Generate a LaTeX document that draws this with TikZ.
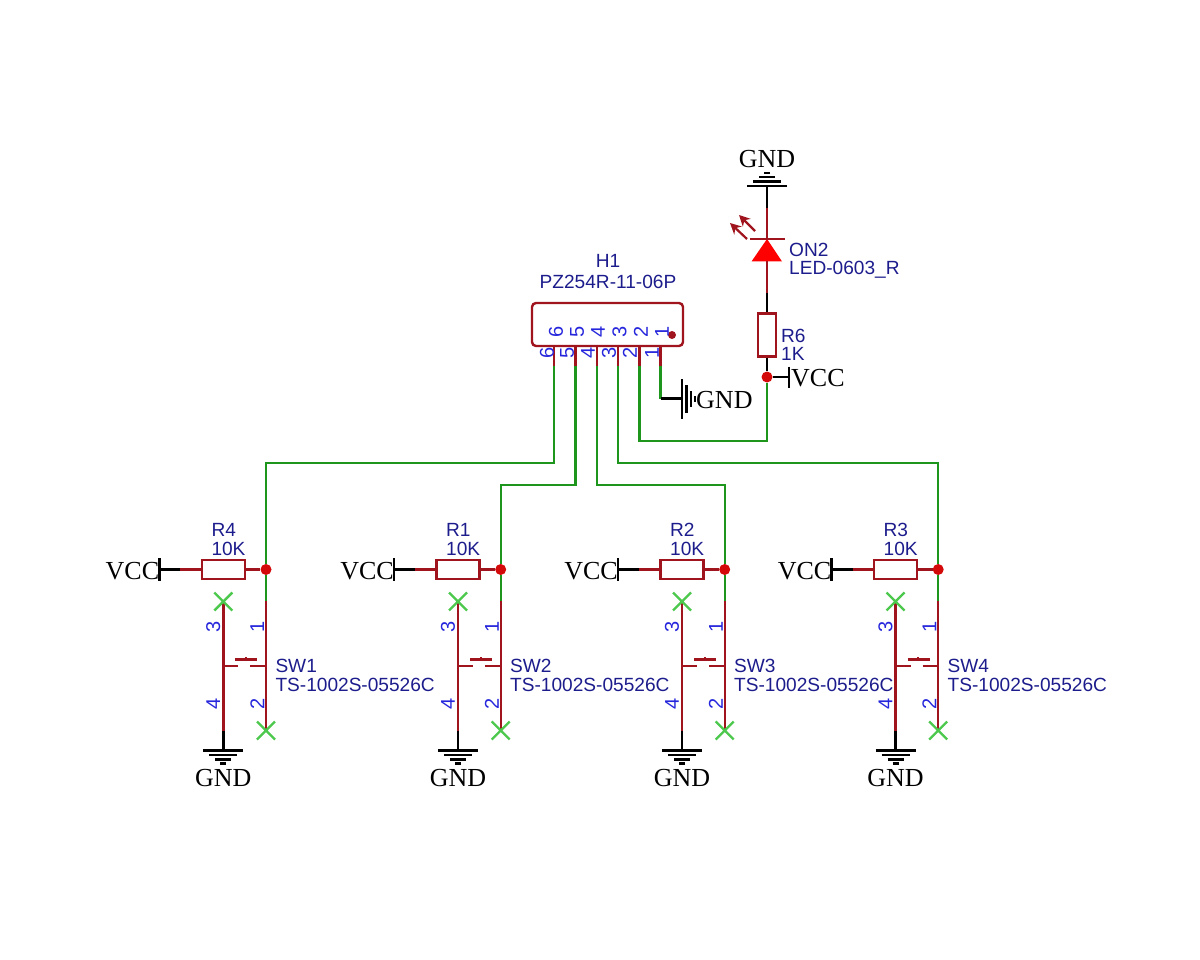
\documentclass[tikz,border=0pt]{standalone}
\usepackage{fontspec}
\setmainfont{Liberation Sans}
\newfontfamily\netfont{Liberation Serif}
\usetikzlibrary{arrows.meta}
\definecolor{wirered}{HTML}{A0141E}
\definecolor{wiregreen}{HTML}{1E961E}
\definecolor{crossgreen}{HTML}{4CC84C}
\definecolor{partblue}{HTML}{1C1C8C}
\definecolor{pinblue}{HTML}{2626DC}
\definecolor{dotred}{HTML}{D40A0A}
\tikzset{
	redwire/.style={draw=wirered,line width=2.4pt},
	greenwire/.style={draw=wiregreen,line width=2.4pt},
	blackwire/.style={draw=black,line width=2.4pt},
	resbox/.style={draw=wirered,line width=2.4pt,fill=white,inner sep=0pt},
	junction/.style={circle,fill=dotred,inner sep=0pt,minimum size=11pt},
	parttext/.style={text=partblue,font=\fontsize{19.1}{20}\selectfont,inner sep=0pt},
	pintext/.style={text=pinblue,font=\fontsize{20}{21}\selectfont,inner sep=0pt,rotate=90},
	nettext/.style={text=black,font=\netfont\fontsize{26}{27}\selectfont,inner sep=0pt,yshift=-1.5pt},
	crossmark/.style={draw=crossgreen,line width=2.4pt},
	ledarrow/.style={draw=wirered,line width=2.2pt,-{Stealth[length=11pt,width=11pt]}},
	pics/gndsym/.style={code={
		\draw[blackwire] (-20,0) -- (20,0);
		\draw[blackwire] (-14,4.5) -- (14,4.5);
		\draw[blackwire] (-8,9) -- (8,9);
		\draw[blackwire] (-3,13) -- (3,13);
	}},
	pics/swcol/.style n args={2}{code={
		\node[resbox,minimum width=43pt,minimum height=19pt] (-res) at (0,0) {};
		\node[junction] (-dot) at (42.7,0) {};
		\coordinate (-vcc) at (-64,0);
		\coordinate (-vcc2) at (-43,0);
		\coordinate (-t3) at (0,32);
		\coordinate (-t4) at (0,161);
		\coordinate (-g) at (0,181);
		\coordinate (-t1a) at (42.7,31);
		\coordinate (-t2) at (42.7,161);
		\draw[blackwire] (-vcc) -- (-vcc2);
		\draw[redwire] (-vcc2) -- (-res.west);
		\draw[redwire] (-res.east) -- (-dot);
		\draw[blackwire] (-64,-11.5) -- (-64,11.5);
		\draw[greenwire] (-dot) -- (-t1a);
		\draw[redwire] (-t1a) -- (-t2);
		\draw[redwire] (-t3) -- (-t4);
		\draw[blackwire] (-t4) -- (-g);
		\draw[crossmark] (-9,23) -- (9,41) (-9,41) -- (9,23);
		\draw[crossmark] (33.7,152) -- (51.7,170) (33.7,170) -- (51.7,152);
		\draw[redwire] (0,96.5) -- (15,96.5);
		\draw[redwire] (27,96.5) -- (42.7,96.5);
		\draw[redwire] (12,90) -- (34,90);
		\draw[redwire] (22.7,87.5) -- (22.7,90);
		\pic at (-g) {gndsym};
		\node[pintext] (-n3) at (-10,57.5) {3};
		\node[pintext] (-n1) at (34,57.5) {1};
		\node[pintext] (-n4) at (-10,134.5) {4};
		\node[pintext] (-n2) at (34,134.5) {2};
		\node[parttext,anchor=west] (-ref) at (52,96.5) {#2};
		\node[parttext,anchor=west] (-val) at (52,115.5) {TS-1002S-05526C};
		\node[parttext,anchor=west] (-rref) at (-12,-39.5) {#1};
		\node[parttext,anchor=west] (-rval) at (-12,-21) {10K};
		\node[nettext] (-gnd) at (0,207.5) {GND};
		\node[nettext,anchor=east] (-vcctext) at (-64,0) {VCC};
	}}
}
\begin{document}
\begin{tikzpicture}[x=1pt,y=-1pt]
	\useasboundingbox (0,0) rectangle (1200,960);
	% switch columns
	\pic (sw1) at (223.3,569.5) {swcol={R4}{SW1}};
	\pic (sw2) at (458,569.5) {swcol={R1}{SW2}};
	\pic (sw3) at (682,569.5) {swcol={R2}{SW3}};
	\pic (sw4) at (895.5,569.5) {swcol={R3}{SW4}};
	% header
	\node[draw=wirered,line width=2.4pt,rounded corners=4pt,minimum width=151pt,minimum height=43pt,inner sep=0pt] (H1) at (607.5,324.5) {};
	\node[parttext] (H1ref) at (608,261) {H1};
	\node[parttext] (H1val) at (608,282) {PZ254R-11-06P};
	\node[circle,fill=wirered,inner sep=0pt,minimum size=8pt] (H1dot) at (672,335) {};
	\coordinate (P6) at (554,366);
	\coordinate (P5) at (575.5,366);
	\coordinate (P4) at (597,366);
	\coordinate (P3) at (618,366);
	\coordinate (P2) at (639.5,366);
	\coordinate (P1) at (660.5,366);
	\draw[redwire] (P6) -- (P6 |- H1.south);
	\draw[redwire] (P5) -- (P5 |- H1.south);
	\draw[redwire] (P4) -- (P4 |- H1.south);
	\draw[redwire] (P3) -- (P3 |- H1.south);
	\draw[redwire] (P2) -- (P2 |- H1.south);
	\draw[redwire] (P1) -- (P1 |- H1.south);
	\node[pintext] (in6) at (556,332) {6};
	\node[pintext] (in5) at (577,332) {5};
	\node[pintext] (in4) at (598,332) {4};
	\node[pintext] (in3) at (619.5,332) {3};
	\node[pintext] (in2) at (641,332) {2};
	\node[pintext] (in1) at (662,332) {1};
	\node[pintext] (out6) at (547,353) {6};
	\node[pintext] (out5) at (567,353) {5};
	\node[pintext] (out4) at (588,353) {4};
	\node[pintext] (out3) at (609,353) {3};
	\node[pintext] (out2) at (630,353) {2};
	\node[pintext] (out1) at (652,353) {1};
	% led branch
	\node[resbox,minimum width=18pt,minimum height=43pt] (R6) at (767,335) {};
	\node[junction] (J6) at (767,377) {};
	\coordinate (LEDtop) at (767,239);
	\coordinate (LEDbot) at (767,261);
	\coordinate (G1) at (767,186);
	\coordinate (W1) at (767,208);
	\coordinate (W2) at (767,293);
	\coordinate (V1) at (789,377);
	\fill[red] (LEDtop) -- (751.5,261.5) -- (782,261.5) -- cycle;
	\draw[redwire] (750,239) -- (785,239);
	\draw[blackwire] (G1) -- (W1);
	\draw[redwire] (W1) -- (LEDtop);
	\draw[redwire] (LEDbot) -- (W2);
	\draw[blackwire] (W2) -- (R6.north);
	\draw[blackwire] (R6.south) -- (J6);
	\draw[blackwire] (J6) -- (V1);
	\draw[blackwire] (789,366.5) -- (789,388);
	\draw[ledarrow] (755,231) -- (739,215);
	\draw[ledarrow] (747,239) -- (730,223);
	\pic[rotate=180] at (G1) {gndsym};
	\node[nettext] (GNDtop) at (767,158) {GND};
	\node[nettext,anchor=west] (VCCled) at (791,377) {VCC};
	\node[parttext,anchor=west] (ONref) at (789,250) {ON2};
	\node[parttext,anchor=west] (ONval) at (789,270) {LED-0603\_R};
	\node[parttext,anchor=west] (R6ref) at (781,336) {R6};
	\node[parttext,anchor=west] (R6val) at (781,354) {1K};
	% pin 1 ground
	\coordinate (G2) at (682,398.5);
	\coordinate (W3) at (660.5,398.5);
	\draw[greenwire] (P1) -- (W3);
	\draw[blackwire] (W3) -- (G2);
	\pic[rotate=90] at (G2) {gndsym};
	\node[nettext,anchor=west] (GNDside) at (696,399) {GND};
	% nets
	\draw[greenwire] (P2) -- (639.5,441) -| (J6);
	\draw[greenwire] (P6) -- (554,463) -| (sw1-dot);
	\draw[greenwire] (P5) -- (575.5,485) -| (sw2-dot);
	\draw[greenwire] (P4) -- (597,485) -| (sw3-dot);
	\draw[greenwire] (P3) -- (618,463) -| (sw4-dot);
\end{tikzpicture}
\end{document}
